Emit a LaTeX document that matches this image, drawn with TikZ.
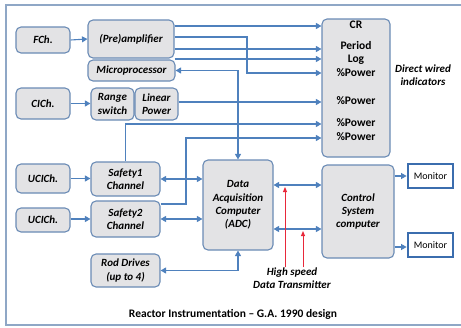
\documentclass[tikz,border=0pt]{standalone}
\usepackage{fontspec}
\setmainfont{Carlito}
\usetikzlibrary{arrows.meta}
\definecolor{arrc}{HTML}{4F81BD}
\definecolor{boxc}{HTML}{6A8BB5}
\definecolor{fillc}{HTML}{E3E3E5}
\definecolor{framec}{HTML}{8FA7C6}
\definecolor{monc}{HTML}{3B6DAE}
\definecolor{redc}{HTML}{E8283A}
\tikzset{
  box/.style={draw=boxc, line width=1.1pt, rounded corners=5pt, fill=fillc,
    inner sep=1pt, align=center, font=\fontsize{11}{13.3}\selectfont\bfseries\itshape},
  monbox/.style={draw=monc, line width=2.8pt, fill=white, inner sep=1pt,
    minimum width=45pt, minimum height=24pt, font=\fontsize{10}{12}\selectfont},
  arr/.style={draw=arrc, line width=1.1pt, -{Triangle[length=5.5pt,width=6pt]}},
  darr/.style={draw=arrc, line width=1.1pt, {Triangle[length=5.5pt,width=6pt]}-{Triangle[length=5.5pt,width=6pt]}},
  redarr/.style={draw=redc, line width=1pt, -{Triangle[length=5pt,width=4pt]}},
  lbl/.style={font=\fontsize{11}{13}\selectfont\bfseries\itshape, align=center, inner sep=0pt},
  crtxt/.style={font=\fontsize{11.5}{12}\selectfont\bfseries, inner sep=0pt}
}
\begin{document}
\begin{tikzpicture}[x=1pt,y=-1pt]
\useasboundingbox (0,0) rectangle (461,327);
\draw[framec, line width=1.2pt] (461,5) -- (6,5) -- (6,325) -- (461,325);

% nodes
\node[box, minimum width=54pt, minimum height=26pt] (fch) at (43,40) {FCh.};
\node[box, minimum width=86pt, minimum height=38pt] (pre) at (131,39) {(Pre)amplifier};
\node[box, minimum width=87pt, minimum height=21pt] (micro) at (131.5,70.5) {Microprocessor};
\node[box, minimum width=54pt, minimum height=31pt] (clch) at (43,103.5) {CICh.};
\node[box, minimum width=43pt, minimum height=32pt] (range) at (112.5,104) {Range\\switch};
\node[box, minimum width=43pt, minimum height=32pt] (linear) at (156.5,104) {Linear\\Power};
\node[box, minimum width=68pt, minimum height=138pt] (cr) at (356,88) {};
\node[box, minimum width=54pt, minimum height=29pt] (u1) at (43,178.5) {UCICh.};
\node[box, minimum width=69pt, minimum height=34pt] (s1) at (125.5,179) {Safety1\\Channel};
\node[box, minimum width=54pt, minimum height=24pt] (u2) at (43,220) {UCICh.};
\node[box, minimum width=69pt, minimum height=36pt] (s2) at (125.5,219) {Safety2\\Channel};
\node[box, minimum width=69pt, minimum height=33pt] (rod) at (125.5,270.5) {Rod Drives\\(up to 4)};
\node[box, minimum width=70pt, minimum height=90pt] (dac) at (238,205) {Data\\Acquisition\\Computer\\(ADC)};
\node[box, minimum width=72pt, minimum height=93pt] (csc) at (358,211.5) {Control\\System\\computer};
\node[monbox] (m1) at (430.5,176) {Monitor};
\node[monbox] (m2) at (430.5,245) {Monitor};

% CR texts
\node[crtxt] (t0) at (356,25) {CR};
\node[crtxt] (t1) at (356,46) {Period};
\node[crtxt] (t2) at (356,60) {Log};
\node[crtxt] (t3) at (356,73) {\%Power};
\node[crtxt] (t4) at (356,101) {\%Power};
\node[crtxt] (t5) at (356,123) {\%Power};
\node[crtxt] (t6) at (356,137) {\%Power};

\node[lbl] (dwi) at (423,75.5) {Direct wired\\indicators};
\node[lbl] (hs) at (292,278) {High speed\\Data Transmitter};
\node[font=\fontsize{11.5}{13}\selectfont\bfseries, inner sep=0pt] (cap) at (233,314) {Reactor Instrumentation -- G.A. 1990 design};

% connectors
\draw[arr] (fch.east) -- (pre.west);
\draw[arr] (pre.east |- 0,26) -- (cr.west |- 0,26);
\draw[arr] (pre.east |- 0,37) -- (247,37) |- (cr.west |- 0,73);
\draw[arr] (pre.east |- 0,49) -- (cr.west |- 0,49);
\draw[arr] (pre.east |- 0,59) -- (cr.west |- 0,59);
\draw[darr] (micro.east) -| (dac.north);
\draw[arr] (clch.east) -- (range.west |- clch.east);
\draw[arr] (linear.east |- 0,102) -- (cr.west |- 0,102);
\draw[arr] (s1.north) |- (cr.west |- 0,124);
\draw[arr] (s2.east |- 0,204) -- (186,204) |- (cr.west |- 0,138);
\draw[arr] (u1.east) -- (s1.west |- u1.east);
\draw[arr] (u2.east |- 0,219) -- (s2.west |- 0,219);
\draw[darr] (s1.east) -- (dac.west |- s1.east);
\draw[darr] (s2.east) -- (dac.west |- s2.east);
\draw[darr] (dac.south) |- (rod.east);
\draw[darr] (dac.east |- 0,185) -- (csc.west |- 0,185);
\draw[darr] (dac.east |- 0,229) -- (csc.west |- 0,229);
\draw[arr] (csc.east |- m1.west) -- (m1.west);
\draw[arr] (csc.east |- 0,247) -- (m2.west |- 0,247);
\draw[redarr] (hs.north -| 285,0) -- (285,187);
\draw[redarr] (hs.north -| 303,0) -- (303,231);
\end{tikzpicture}
\end{document}
